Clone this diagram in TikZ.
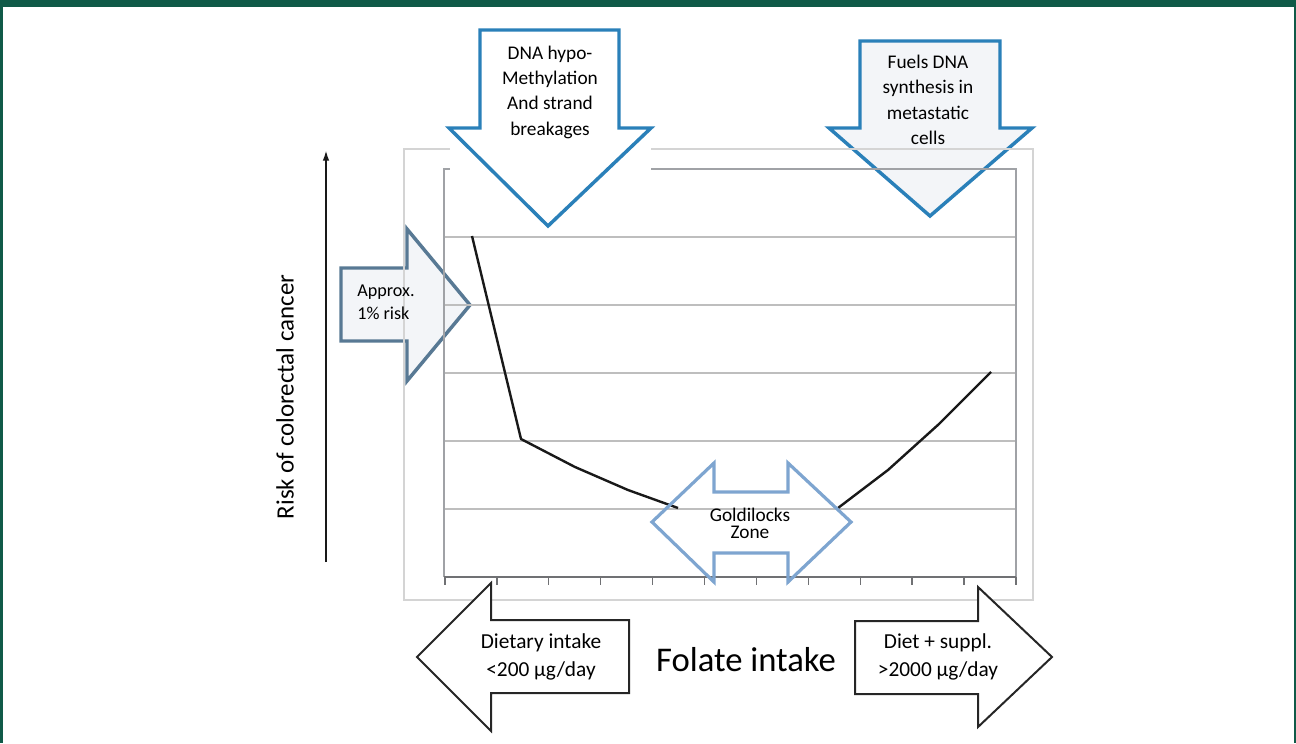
\documentclass[tikz,border=0pt]{standalone}
\usepackage{fontspec}
\setmainfont{Carlito}
\usetikzlibrary{arrows.meta}
\definecolor{bargreen}{RGB}{16,90,72}
\definecolor{dnablue}{RGB}{42,128,185}
\definecolor{slateblue}{RGB}{88,121,148}
\definecolor{zoneblue}{RGB}{126,165,208}
\definecolor{paleface}{RGB}{243,245,248}
\definecolor{gridgray}{RGB}{190,190,190}
\definecolor{framegray}{RGB}{160,162,166}
\definecolor{outergray}{RGB}{212,212,212}
\tikzset{
  arrowtext/.style={font=\fontsize{14.5}{19}\selectfont,align=center,inner sep=0pt},
  sidetext/.style={font=\fontsize{16}{21.5}\selectfont,align=center,inner sep=0pt},
  gridline/.style={draw=gridgray,line width=1pt},
  frameline/.style={draw=framegray,line width=1.2pt},
  tickline/.style={draw=framegray!70!black,line width=1pt}
}
\begin{document}
\begin{tikzpicture}[x=0.75pt,y=-0.75pt]
\useasboundingbox (0,0) rectangle (1296,743);
\fill[bargreen] (0,0) rectangle (1296,7);
\fill[bargreen] (0,0) rectangle (2.5,743);
\fill[bargreen] (1293.5,0) rectangle (1296,743);
\draw[slateblue,fill=paleface,line width=2.6pt,line join=miter] (341,268) -- (407,268) -- (407,229) -- (470,305) -- (407,381) -- (407,341) -- (341,341) -- cycle;
\draw[dnablue,fill=paleface,line width=2.6pt,line join=miter] (860,41) -- (1000,41) -- (1000,128) -- (1032,128) -- (930,216) -- (829,128) -- (860,128) -- cycle;
\draw[outergray,line width=1.2pt] (404,149) rectangle (1033,600);
\foreach \gy in {237,305,373,441,509}
  \draw[gridline] (444,\gy) -- (1016,\gy);
\draw[frameline] (444,577) -- (444,169) -- (1016,169) -- (1016,577);
\draw[tickline] (444,577) -- (1016,577);
\foreach \i in {0,...,11}
  \draw[tickline] ({445+\i*51.9},577) -- ++(0,8);
\draw[black!90,line width=1.8pt,line join=round] (472,236) -- (521,439) -- (575,467) -- (628,490) -- (678,508);
\draw[black!90,line width=1.8pt,line join=round] (838,508) -- (888,470) -- (939,424) -- (991,372);
\fill[white] (450,20) rectangle (651,176);
\draw[dnablue,fill=white,line width=2.6pt,line join=miter] (480,30) -- (619,30) -- (619,128) -- (651,128) -- (548,226) -- (449,128) -- (480,128) -- cycle;
\draw[zoneblue,line width=2.4pt,line join=miter] (652,522) -- (714,463) -- (714,492) -- (788,492) -- (788,463) -- (851,522) -- (788,582) -- (788,553) -- (714,553) -- (714,582) -- cycle;
\draw[black!85,fill=white,line width=1.5pt,line join=miter] (629,620) -- (491,620) -- (491,583) -- (417,657) -- (491,731) -- (491,693) -- (629,693) -- cycle;
\draw[black!85,fill=white,line width=1.5pt,line join=miter] (855,621) -- (978,621) -- (978,587) -- (1052,657) -- (978,727) -- (978,694) -- (855,694) -- cycle;
\draw[black!90,line width=1.5pt,-{Latex[length=8pt,width=5pt]}] (326,562) -- (326,150);
\node[arrowtext] (dna) at (550,92) {DNA hypo-\\Methylation\\And strand\\breakages};
\node[arrowtext] (fuels) at (928,100) {Fuels DNA\\synthesis in\\metastatic\\cells};
\node[font=\fontsize{13.6}{17}\selectfont,align=left,inner sep=0pt] (approx) at (386,302) {Approx.\\1\% risk};
\node[font=\fontsize{14.5}{12.8}\selectfont,align=center,inner sep=0pt] (zone) at (750,523) {Goldilocks\\Zone};
\node[sidetext] (dietary) at (541,657) {Dietary intake\\<200 µg/day};
\node[sidetext] (suppl) at (938,657) {Diet + suppl.\\>2000 µg/day};
\node[font=\fontsize{26}{30}\selectfont,inner sep=0pt] (folate) at (746,660) {Folate intake};
\node[font=\fontsize{18.7}{22}\selectfont,rotate=90,inner sep=0pt] (risk) at (285,397) {Risk of colorectal cancer};
\end{tikzpicture}
\end{document}
